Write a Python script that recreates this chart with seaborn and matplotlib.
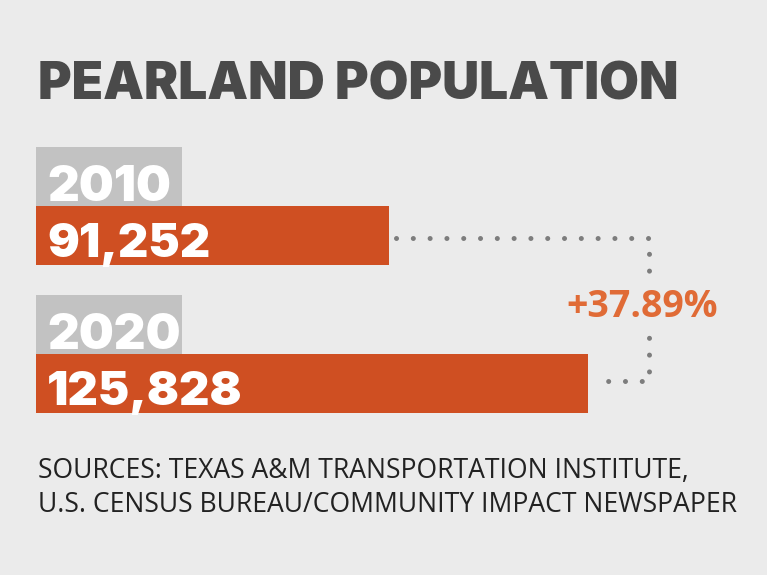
import matplotlib.pyplot as plt
import matplotlib.transforms as mtransforms
from matplotlib.patches import Rectangle
import pandas as pd
import seaborn as sns

# Chart data
years = ['2010', '2020']
population = [91252, 125828]
value_labels = ['91,252', '125,828']
change_label = '+37.89%'
title = 'PEARLAND POPULATION'
source_lines = ['SOURCES: TEXAS A&M TRANSPORTATION INSTITUTE,',
                'U.S. CENSUS BUREAU/COMMUNITY IMPACT NEWSPAPER']

# Colours
BG = '#ebebeb'
ORANGE = '#cf4f22'
GRAY_BOX = '#c2c2c2'
TITLE_C = '#4a4a4a'
DOT_C = '#7d7d7d'
PCT_C = '#e06b36'

W, H = 767, 575
HEAVY = ['Inter', 'DejaVu Sans']
OPEN = ['Open Sans', 'DejaVu Sans']

sns.set_theme(style='white')
plt.rcParams['font.family'] = HEAVY

fig = plt.figure(figsize=(W / 100, H / 100), dpi=100, facecolor=BG)
ax = fig.add_axes([36 / W, 1 - 430 / H, (W - 36) / W, 300 / H])
ax.set_facecolor(BG)

df = pd.DataFrame({'year': years, 'population': population})
sns.barplot(data=df, x='population', y='year', color=ORANGE, saturation=1,
            width=0.4, linewidth=0, ax=ax)

ax.set_xlim(29900, 156900)
ax.set_ylim(1.314, -0.713)
ax.set_axis_off()

blend = mtransforms.blended_transform_factory(ax.transAxes, ax.transData)

for i, (yr, lab) in enumerate(zip(years, value_labels)):
    # gray year tab above each bar
    ax.add_patch(Rectangle((0, i - 0.6), 146 / 731, 0.4, transform=blend,
                           facecolor=GRAY_BOX, edgecolor='none', zorder=1))
    ax.text(0.015, i - 0.232, yr, transform=blend, color='white',
            fontsize=35.5, fontweight=900, va='baseline', ha='left', zorder=3)
    ax.text(0.015, i + 0.145, lab, transform=blend, color='white',
            fontsize=34, fontweight=900, va='baseline', ha='left', zorder=3)

# dotted connector between bar ends
elbow = max(population) + 10600
xs = [population[0] + 1220, elbow, elbow, population[1] + 2600]
ys = [0.017, 0.017, 0.983, 0.983]
ax.plot(xs, ys, color=DOT_C, linewidth=3.6, linestyle=(0, (0.01, 3.35)),
        dash_capstyle='round', solid_capstyle='round', zorder=2)

ax.annotate(change_label, xy=(elbow, 0.55), xytext=(-5, 0),
            textcoords='offset points', color=PCT_C, fontsize=27,
            fontweight=700, family=OPEN, ha='center', va='baseline', zorder=4,
            bbox=dict(facecolor=BG, edgecolor='none', pad=4))

fig.text(38 / W, 1 - 100 / H, title, color=TITLE_C, fontsize=37,
         fontweight=900, ha='left', va='baseline')

for k, line in enumerate(source_lines):
    fig.text(38 / W, 1 - (478 + 34 * k) / H, line, color='#222222',
             fontsize=19.1, family=OPEN, ha='left', va='baseline')

fig.savefig('out.png', dpi=100, facecolor=BG)
